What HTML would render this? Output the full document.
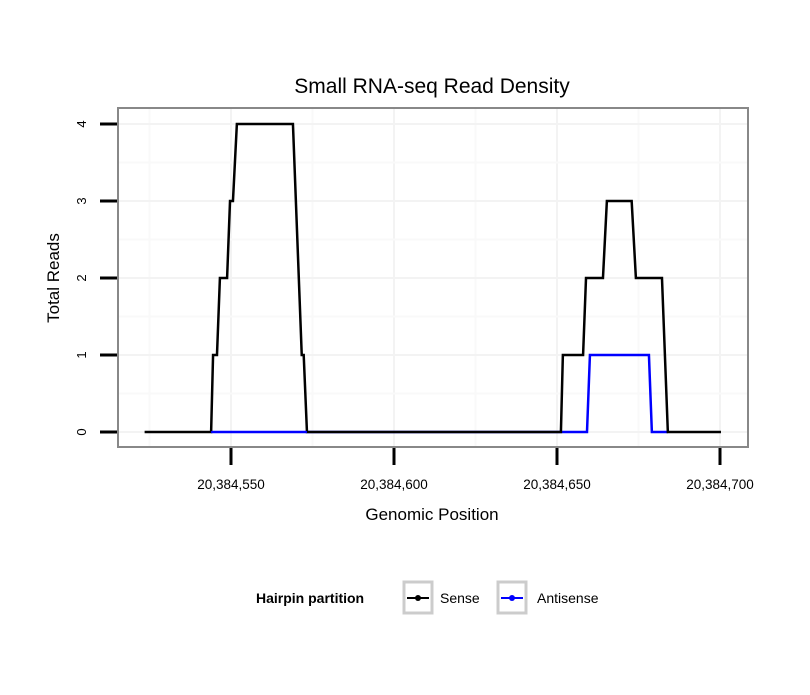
<!DOCTYPE html>
<html><head><meta charset="utf-8"><style>
body{margin:0;background:#fff;font-family:"Liberation Sans",sans-serif}
svg text{font-family:"Liberation Sans",sans-serif}
</style></head><body>
<svg id="chart" width="810" height="690" xmlns="http://www.w3.org/2000/svg">
<rect width="810" height="690" fill="#fff"/>
<text x="432" y="93" text-anchor="middle" font-size="21">Small RNA-seq Read Density</text>
<g id="grid"></g>
<g id="series"></g>
<rect x="118" y="108" width="630" height="339" fill="none" stroke="#888" stroke-width="2"/>
<g id="axes"></g>
<text x="432" y="520" text-anchor="middle" font-size="17">Genomic Position</text>
<text transform="translate(59,278) rotate(-90)" text-anchor="middle" font-size="17">Total Reads</text>
<g>
<text x="256" y="603" font-size="14" font-weight="bold">Hairpin partition</text>
<g>
<rect x="404" y="582" width="28" height="31" fill="#fff" stroke="#ccc" stroke-width="3"/>
<line x1="407" y1="598" x2="429" y2="598" stroke="#000" stroke-width="2"/><circle cx="418" cy="598" r="3" fill="#000"/>
<text x="440" y="603" font-size="14">Sense</text></g>
<g>
<rect x="498" y="582" width="28" height="31" fill="#fff" stroke="#ccc" stroke-width="3"/>
<line x1="501" y1="598" x2="523" y2="598" stroke="#00f" stroke-width="2"/><circle cx="512" cy="598" r="3" fill="#00f"/>
<text x="537" y="603" font-size="14">Antisense</text></g>
</g>
</svg>
<script>
const xTicks=[20384550,20384600,20384650,20384700];
const xTickLabels=["20,384,550","20,384,600","20,384,650","20,384,700"];
const yTicks=[0,1,2,3,4];
const sensePos=[20384523.5,20384543.9,20384544.5,20384545.7,20384546.6,20384548.8,20384549.7,20384550.6,20384551.8,20384569,20384571.7,20384572.3,20384573.3,20384651.2,20384651.8,20384658,20384658.9,20384664.1,20384665.3,20384672.9,20384674.2,20384682.2,20384684,20384700.3];
const senseVal=[0,0,1,1,2,2,3,3,4,4,1,1,0,0,1,1,2,2,3,3,2,2,0,0];
const antiPos=[20384543.9,20384659.2,20384660.1,20384678.2,20384679.1,20384684];
const antiVal=[0,0,1,1,0,0];
const NS="http://www.w3.org/2000/svg";
const xs=v=>231+(v-20384550)*163/50;
const ys=v=>432-v*77;
function mk(t,a,p){const e=document.createElementNS(NS,t);for(const k in a)e.setAttribute(k,a[k]);p.appendChild(e);return e;}
const grid=document.getElementById('grid'),axes=document.getElementById('axes'),ser=document.getElementById('series');
for(let i=0;i<xTicks.length;i++){
 const x=xs(xTicks[i]);
 const g=mk('line',{x1:x,x2:x,y1:109,y2:446,stroke:'#f3f3f3','stroke-width':2},grid);
 
 
 const xm=xs(xTicks[i]-25);
 const gm=mk('line',{x1:xm,x2:xm,y1:109,y2:446,stroke:'#f9f9f9','stroke-width':2},grid);
 
 
 const t=mk('line',{x1:x,x2:x,y1:448,y2:465,stroke:'#000','stroke-width':3},axes);
 
 
 const l=mk('text',{x:x,y:489,'text-anchor':'middle','font-size':13.5},axes);l.textContent=xTickLabels[i];
 
 
}
for(const v of yTicks){
 const y=ys(v);
 const g=mk('line',{x1:119,x2:747,y1:y,y2:y,stroke:'#f3f3f3','stroke-width':2},grid);
 
 
 if(v<4){const ym=ys(v+0.5);const gm=mk('line',{x1:119,x2:747,y1:ym,y2:ym,stroke:'#f9f9f9','stroke-width':2},grid);
 
 }
 const t=mk('line',{x1:100,x2:117,y1:y,y2:y,stroke:'#000','stroke-width':3},axes);
 
 
 const l=mk('text',{transform:`translate(86,${y}) rotate(-90)`,'text-anchor':'middle','font-size':13},axes);l.textContent=v;
 
 
}
const ap=mk('polyline',{points:antiPos.map((p,i)=>xs(p)+','+ys(antiVal[i])).join(' '),fill:'none',stroke:'#00f','stroke-width':2.5},ser);


const sp=mk('polyline',{points:sensePos.map((p,i)=>xs(p)+','+ys(senseVal[i])).join(' '),fill:'none',stroke:'#000','stroke-width':2.5},ser);


const ap2=mk('line',{x1:xs(antiPos[0]),x2:xs(sensePos[12]),y1:ys(0),y2:ys(0),stroke:'#00f','stroke-width':2},ser);


</script>
</body></html>
